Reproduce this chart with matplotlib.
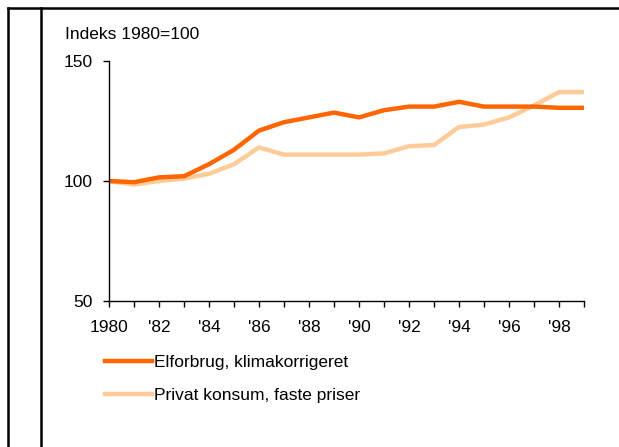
import matplotlib.pyplot as plt
from matplotlib.lines import Line2D

plt.rcParams['font.family'] = ['Liberation Sans', 'DejaVu Sans']

years = list(range(1980, 2000))
elforbrug = [100, 99.5, 101.5, 102, 107, 113, 121, 124.5, 126.5, 128.5,
             126.5, 129.5, 131, 131, 133, 131, 131, 131, 130.5, 130.5]
privat = [100, 98.5, 100, 101, 103, 107, 114, 111, 111, 111,
          111, 111.5, 114.5, 115, 122.5, 123.5, 126.5, 131.5, 137, 137]
tick_labels = ['1980', "'82", "'84", "'86", "'88", "'90", "'92", "'94", "'96", "'98"]
series_names = ['Elforbrug, klimakorrigeret', 'Privat konsum, faste priser']
colors = ['#FF6600', '#FFCC99']

fig = plt.figure(figsize=(6.19, 4.47), dpi=100)
ax = fig.add_axes([109 / 619, 1 - 301 / 447, 475 / 619, 240 / 447])

# light series first so the dark one sits on top
ax.plot(years, privat, color=colors[1], lw=3.2, solid_joinstyle='miter')
ax.plot(years, elforbrug, color=colors[0], lw=3.2, solid_joinstyle='miter')

ax.set_xlim(1980, 1999)
ax.set_ylim(50, 150)
ax.set_yticks([50, 100, 150])
ax.set_xticks(years)
ax.set_xticklabels([tick_labels[i // 2] if i % 2 == 0 else '' for i in range(len(years))])
ax.tick_params(direction='out', length=4, width=1, labelsize=12.5, colors='black')
ax.tick_params(axis='x', pad=9.5)
ax.tick_params(axis='y', pad=8)
for s in ['top', 'right']:
    ax.spines[s].set_visible(False)
for s in ['left', 'bottom']:
    ax.spines[s].set_linewidth(1)
    ax.spines[s].set_color('black')

fig.text(65 / 619, 1 - 39 / 447, 'Indeks 1980=100', fontsize=12.5, va='baseline')

handles = [Line2D([], [], color=c, lw=3.2) for c in colors]
fig.legend(handles, series_names, loc='upper left', bbox_to_anchor=(105 / 619, 1 - 355 / 447),
           frameon=False, fontsize=12.5, handlelength=2.7, handletextpad=0.1,
           labelspacing=1.0, borderpad=0, borderaxespad=0)

# frame lines around the chart
fig.add_artist(Line2D([7.5 / 619, 1], [1 - 7.5 / 447] * 2, color='black', lw=1.8))
fig.add_artist(Line2D([7.5 / 619] * 2, [0, 1 - 7.5 / 447], color='black', lw=1.8))
fig.add_artist(Line2D([41 / 619] * 2, [0, 1 - 7.5 / 447], color='black', lw=1.8))

fig.savefig('out.png', dpi=100)
